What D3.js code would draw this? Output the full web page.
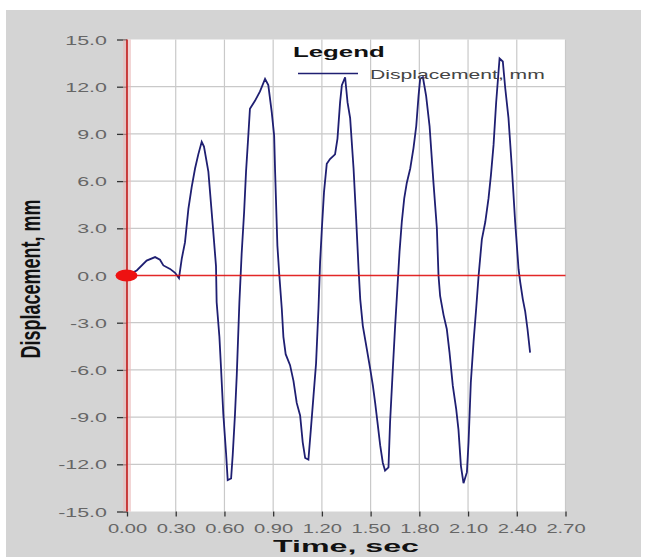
<!DOCTYPE html>
<html><head><meta charset="utf-8">
<script src="https://cdn.jsdelivr.net/npm/d3@7"></script>
<style>
html,body{margin:0;padding:0;background:#fff;}
svg{display:block;font-family:Arial,"Liberation Sans",sans-serif;}
</style></head>
<body>
<svg id="chart" width="649" height="557"></svg>
<script>
const time = [0,0.06,0.121,0.173,0.203,0.224,0.265,0.296,0.32,0.337,
0.357,0.378,0.398,0.419,0.439,0.46,0.474,0.501,0.528,0.548,
0.552,0.569,0.579,0.593,0.610,0.620,0.641,0.651,0.665,0.676,
0.692,0.706,0.721,0.733,0.747,0.757,0.788,0.819,0.85,0.870,
0.891,0.906,0.912,0.926,0.938,0.953,0.963,0.977,1.004,1.025,
1.045,1.066,1.082,1.097,1.117,1.132,1.148,1.164,1.179,1.189,
1.2,1.213,1.23,1.25,1.281,1.296,1.312,1.323,1.343,1.358,
1.374,1.395,1.411,1.426,1.436,1.452,1.477,1.497,1.514,1.528,
1.542,1.559,1.575,1.589,1.610,1.62,1.637,1.651,1.666,1.678,
1.692,1.707,1.723,1.744,1.764,1.781,1.795,1.805,1.822,1.842,
1.863,1.887,1.908,1.918,1.928,1.949,1.969,1.986,2.006,2.027,
2.041,2.056,2.072,2.093,2.103,2.117,2.134,2.150,2.165,2.185,
2.206,2.226,2.241,2.257,2.273,2.294,2.314,2.329,2.349,2.370,
2.390,2.411,2.421,2.437,2.452,2.466,2.482];
const displacement = [0,0.32,0.95,1.17,1.0,0.64,0.42,0.17,-0.17,1.06,
2.1,4.24,5.6,6.8,7.7,8.5,8.2,6.6,3.2,0.6,
-1.7,-3.9,-5.9,-8.8,-11.3,-13.0,-12.9,-11.4,-8.8,-6.3,
-1.7,1.4,4.0,6.6,8.9,10.6,11.1,11.7,12.5,12.1,
10.4,8.9,6.6,1.9,0,-2.1,-3.9,-5.0,-5.7,-6.7,
-8.1,-8.9,-10.6,-11.6,-11.7,-9.8,-7.7,-5.6,-2.1,0.85,
3.0,5.3,7.1,7.4,7.7,8.7,11.0,12.1,12.6,11.0,
10.0,6.8,3.6,0.4,-1.5,-3.2,-4.7,-5.9,-7.0,-8.1,
-9.3,-10.8,-11.9,-12.4,-12.2,-9.3,-5.9,-3.2,-0.6,1.5,
3.4,4.9,5.9,6.8,8.1,9.5,11.4,12.5,12.6,11.4,
9.5,5.9,3.0,0,-1.3,-2.5,-3.4,-4.9,-7.0,-8.5,
-9.8,-12.1,-13.2,-12.5,-10.6,-6.8,-4.2,-2.1,0,2.3,
3.4,4.9,6.4,8.3,11.0,13.8,13.6,11.9,10.0,6.8,
3.4,0.4,-0.4,-1.5,-2.3,-3.4,-4.9];
const xTicks = [0,0.3,0.6,0.9,1.2,1.5,1.8,2.1,2.4,2.7];
const yTicks = [-15,-12,-9,-6,-3,0,3,6,9,12,15];
const seriesName = "Displacement, mm";
const xTitle = "Time,  sec";
const yTitle = "Displacement, mm";
const legendTitle = "Legend";

const svg = d3.select("#chart");
const L = 127, R = 565.5, T = 39.5, B = 511.5;
const SX = 1.65;
const x = d3.scaleLinear().domain([0, 2.7]).range([L, R]);
const y = d3.scaleLinear().domain([-15, 15]).range([B, T]);

// background panel
svg.append("rect").attr("x",6).attr("y",10).attr("width",635).attr("height",547).attr("fill","#d4d4d4");
svg.append("rect").attr("x",L).attr("y",T).attr("width",R-L).attr("height",B-T).attr("fill","#ffffff");

// grid
svg.append("g").selectAll("line").data(xTicks.slice(1)).join("line")
  .attr("x1",d=>x(d)).attr("x2",d=>x(d)).attr("y1",T).attr("y2",B)
  .attr("stroke","#c9c9c9").attr("stroke-width",1.2);
svg.append("g").selectAll("line").data(yTicks.filter(d=>d!==0 && d!==-15 && d!==15)).join("line")
  .attr("x1",L).attr("x2",R).attr("y1",d=>y(d)).attr("y2",d=>y(d))
  .attr("stroke","#c9c9c9").attr("stroke-width",1.2);

// axes via d3
const yAxis = d3.axisLeft(y).tickValues(yTicks).tickSize(10).tickFormat(d3.format(".1f"));
const gy = svg.append("g").attr("transform",`translate(${L},0)`).call(yAxis);
gy.select(".domain").remove();
gy.selectAll(".tick line").attr("stroke","#333").attr("stroke-width",1.3);
gy.selectAll(".tick text").remove();
gy.selectAll(".tick").append("text")
  .attr("transform",`translate(-20,0) scale(${SX},1)`)
  .attr("dy","0.35em").attr("text-anchor","end")
  .attr("font-size",13).attr("fill","#666")
  .text(d=>d3.format(".1f")(d).replace("\u2212","-"));

const xAxis = d3.axisBottom(x).tickValues(xTicks).tickSize(5).tickFormat(d3.format(".2f"));
const gx = svg.append("g").attr("transform",`translate(0,${B})`).call(xAxis);
gx.select(".domain").remove();
gx.selectAll(".tick line").attr("stroke","#333").attr("stroke-width",1.3);
gx.selectAll(".tick text").remove();
gx.selectAll(".tick").append("text")
  .attr("transform",`translate(0,21.5) scale(1.55,1)`)
  .attr("text-anchor","middle")
  .attr("font-size",13).attr("fill","#666")
  .text(d=>d3.format(".2f")(d));

// left red axis
svg.append("rect").attr("x",L-4).attr("y",T).attr("width",8).attr("height",B-T).attr("fill","#e9b9b9").attr("opacity",0.6);
svg.append("line").attr("x1",L).attr("x2",L).attr("y1",T).attr("y2",B).attr("stroke","#c01818").attr("stroke-width",1.6);

// series line
const line = d3.line().x((d,i)=>x(time[i])).y(d=>y(d));
svg.append("path").datum(displacement).attr("d",line)
  .attr("fill","none").attr("stroke","#1f1f72").attr("stroke-width",1.8).attr("stroke-linejoin","miter");

// zero line (drawn in red)
svg.append("line").attr("x1",L).attr("x2",R).attr("y1",y(0)).attr("y2",y(0))
  .style("stroke","#e01010").style("stroke-width","1.4px").attr("opacity",0.9);

// origin marker
svg.append("ellipse").attr("cx",x(0)-0.5).attr("cy",y(0)).attr("rx",11).attr("ry",6).attr("fill","#ee1111");

// legend
svg.append("text").attr("transform",`translate(293,56.5) scale(1.72,1)`)
  .attr("font-size",15).attr("font-weight","bold").attr("fill","#111").text(legendTitle);
svg.append("line").attr("x1",298).attr("x2",358).attr("y1",73.5).attr("y2",73.5).attr("stroke","#1f1f72").attr("stroke-width",1.4);
svg.append("text").attr("transform",`translate(370,79) scale(1.69,1)`)
  .attr("font-size",12.5).attr("fill","#444").text(seriesName);

// axis titles
svg.append("text").attr("transform",`translate(346,552) scale(1.95,1)`)
  .attr("text-anchor","middle").attr("font-size",16.5).attr("font-weight","bold").attr("fill","#111").text(xTitle);
svg.append("text").attr("transform",`translate(40,279) scale(1.5,1) rotate(-90)`)
  .attr("text-anchor","middle").attr("font-size",18).attr("font-weight","bold").attr("fill","#111").text(yTitle);
</script>
</body></html>
